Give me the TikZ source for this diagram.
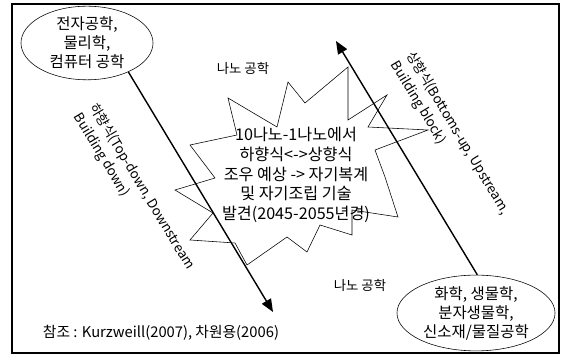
\documentclass[tikz,border=0pt]{standalone}
\usepackage{fontspec}
\setmainfont{Noto Sans CJK KR}
\usetikzlibrary{arrows.meta,shapes.geometric}

\begin{document}
\begin{tikzpicture}[
  x=0.025cm,y=-0.025cm,
  font=\fontsize{11}{13.5}\selectfont,
  field/.style={draw,ellipse,thin,align=center,inner sep=0pt},
  flow/.style={-{Triangle[length=3.2mm,width=2.6mm]},line width=1pt},
  side/.style={font=\fontsize{9.5}{13}\selectfont,align=left,rotate=-59,
               anchor=north west,inner sep=0pt},
  nano/.style={font=\fontsize{9.5}{11}\selectfont}
]
% frame
\useasboundingbox (0,0) rectangle (561,359);
\draw[line width=1pt] (12,4) rectangle (559,353);
% fields
\node[field,minimum width=3.3cm,minimum height=1.45cm] (elec) at (87,43)
  {전자공학,\\물리학,\\컴퓨터 공학};
\node[field,minimum width=3.95cm,minimum height=1.55cm] (chem) at (476,313)
  {화학, 생물학,\\분자생물학,\\신소재/물질공학};
% burst
\draw[thin] (190,145) -- (237,135) -- (228,98) -- (277,127) -- (288,82)
  -- (305,103) -- (348,67) -- (348,120) -- (387,95) -- (368,127)
  -- (428,130) -- (375,150) -- (385,177) -- (398,217) -- (352,210)
  -- (352,235) -- (320,225) -- (307,252) -- (287,237) -- (247,265)
  -- (235,243) -- (190,240) -- (213,213) -- (175,190) -- (215,178) -- cycle;
\node[align=center,font=\fontsize{11.5}{14}\selectfont] (core) at (296,175)
  {10나노-1나노에서\\하향식<->상향식\\조우 예상 -> 자기복계\\및 자기조립 기술\\발견(2045-2055년경)};
% nano labels
\node[nano] (nanotop) at (243,68) {나노 공학};
\node[nano] (nanobot) at (360,285) {나노 공학};
% flows
\coordinate (downend) at (273,312);
\coordinate (upend) at (336,41);
\draw[flow] (elec.-35) -- (downend);
\draw[flow] (chem.88) -- (upend);
\node[side] (downlbl) at (99,101) {하향식(Top-down, Downstream\\Building down)};
\node[side] (uplbl) at (416,49) {상향식(Bottoms-up, Upstream,\\Building block)};
% source
\node[font=\fontsize{10.5}{12}\selectfont] (source) at (161,333)
  {참조 : Kurzweill(2007), 차원용(2006)};
\end{tikzpicture}
\end{document}
